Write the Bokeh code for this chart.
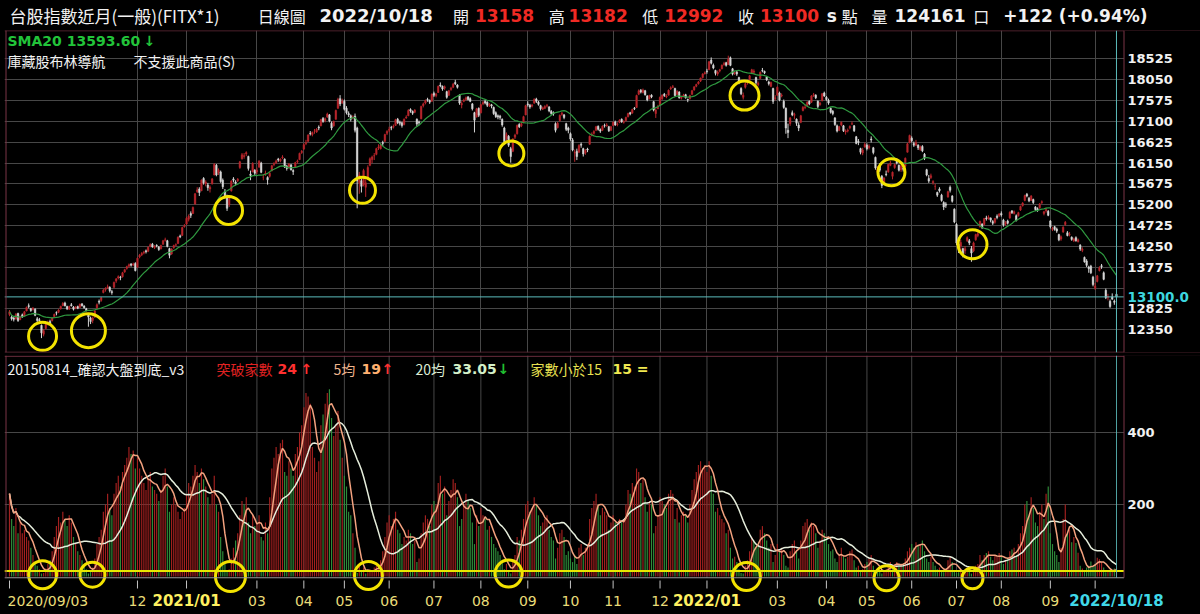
import numpy as np
import pandas as pd
from bokeh.plotting import figure
from bokeh.layouts import column
from bokeh.models import Range1d, FixedTicker, Span, Label, ColumnDataSource, BoxAnnotation
from bokeh.embed import file_html
from bokeh.resources import INLINE

# ---------------- data ----------------
first_day = "2020-09-03"
last_day = "2022-10-18"
holidays = ["2020-10-01", "2020-10-02", "2020-10-09", "2021-01-01",
            "2021-02-08", "2021-02-09", "2021-02-10", "2021-02-11", "2021-02-12",
            "2021-02-15", "2021-02-16", "2021-03-01", "2021-04-02", "2021-04-05",
            "2021-04-30", "2021-06-14", "2021-09-20", "2021-09-21", "2021-10-11",
            "2021-12-31", "2022-01-27", "2022-01-28", "2022-01-31", "2022-02-01",
            "2022-02-02", "2022-02-03", "2022-02-04", "2022-02-28", "2022-04-04",
            "2022-04-05", "2022-05-02", "2022-06-03", "2022-09-09", "2022-10-10"]

opens = [
    12700, 12640, 12620, 12600, 12720, 12580, 12690, 12660, 12780, 12900, 12830, 12810, 12820, 12600, 12580, 12450, 12250, 12380, 12500, 12540,
    12560, 12650, 12740, 12750, 12830, 12900, 12960, 12880, 12820, 12920, 12870, 12840, 12880, 12860, 12940, 12890, 12830, 12700, 12620,
    12560, 12640, 12850, 13000, 13020, 13200, 13260, 13310, 13320, 13220, 13320, 13460, 13530, 13550, 13560, 13670, 13750, 13800, 13850, 13830, 13860,
    13780, 14010, 14060, 14100, 14150, 14140, 14260, 14300, 14220, 14270, 14240, 14200, 14300, 14390, 14380, 14200, 14080, 14220, 14280, 14320, 14490, 14500, 14700,
    14760, 14870, 15000, 15000, 15220, 15500, 15560, 15520, 15800, 15680, 15650, 15560, 15680, 15880, 16100, 15930, 15950, 15760, 15500, 15380,
    15200, 15520, 15790, 15720, 15750, 16050, 16250, 16300, 16360, 16300, 15900, 15950, 15990,
    15950, 16060, 16150, 15830, 15900, 15820, 15850, 15980, 16120, 16160, 16240, 16200, 16270, 16240, 16080, 16060, 16110, 15980, 16050, 16180, 16230, 16390,
    16470, 16600, 16650, 16830, 16800, 16880, 16860, 16970, 17000, 17170, 17120, 17200, 17250, 17060, 17000, 17150, 17400, 17620, 17530,
    17560, 17400, 17280, 17230, 17180, 17220, 16950, 15700, 15750, 15650, 15600, 15780, 16100, 16230, 16310, 16350, 16500, 16480, 16620, 16650, 16830,
    16900, 16960, 16970, 17010, 17150, 17080, 17070, 17030, 17180, 17230, 17370, 17330, 17310, 17150, 17090, 17160, 17460, 17520, 17600, 17580, 17560,
    17740, 17690, 17760, 17930, 17900, 17860, 17780, 17700, 17830, 17880, 17990, 17930, 17700, 17480, 17560, 17600, 17660, 17620, 17500, 17300, 17200, 17400,
    17300, 17500, 17560, 17540, 17460, 17480, 17420, 17300, 17230, 17220, 17150, 16950, 16700, 16760, 16480, 16420, 16740, 16820, 17030, 17000, 17080, 17250,
    17500, 17470, 17450, 17520, 17610, 17540, 17460, 17380, 17400, 17450, 17430, 17330, 17300, 17050, 16960, 17120, 17260, 17250, 17050, 16950,
    16820, 16680, 16380, 16420, 16400, 16580, 16480, 16380, 16470, 16580, 16790, 16830, 16900, 16990, 16910, 16900, 17010, 17000, 16980, 16900,
    17010, 17090, 17030, 17080, 17150, 17080, 17120, 17210, 17300, 17290, 17400, 17420, 17720, 17810, 17760, 17800, 17680, 17620, 17700, 17550, 17280, 17390,
    17480, 17620, 17720, 17660, 17700, 17840, 17880, 17850, 17720, 17770, 17630, 17680, 17710, 17600, 17620, 17720, 17820, 17900, 17960, 18020, 18100, 18190,
    18250, 18280, 18500, 18380, 18260, 18180, 18250, 18300, 18400, 18440, 18400, 18550, 18300, 18200, 18230, 18100, 17850, 17650,
    17880, 17980, 18050, 18200, 18220, 18100, 17940, 18080, 18260, 18240, 18120, 18000, 17900, 17850, 17620,
    17700, 17750, 17680, 17560, 17400, 16900, 17050, 17300, 17240, 17150, 17020, 17080, 17350, 17420, 17460, 17560, 17540, 17690, 17700, 17560, 17480, 17570, 17750,
    17650, 17580, 17400, 17330, 17180, 17000, 16900, 17020, 17000, 16860, 16880, 16950, 17040, 17000, 16750, 16650, 16480, 16380, 16520,
    16560, 16500, 16700, 16500, 16280, 15950, 16100, 15850, 15720, 15900, 15950, 16100, 15850, 16050, 16200, 16100, 16000, 16030, 16080, 16400, 16620,
    16720, 16600, 16560, 16560, 16460, 16530, 16350, 16000, 15800, 15820, 15700, 15620, 15480, 15560, 15420, 15250, 15220, 15380, 15600, 15400, 15100,
    14750, 14300, 14260, 14200, 14150, 14380, 14380, 14200, 14150, 14400, 14500, 14700, 14760, 14750, 14900, 14880, 14900, 14820, 14800, 14940, 14950,
    15000, 14850, 14760, 14830, 14900, 15060, 15000, 14950, 14950, 15080, 15180, 15300, 15440, 15350, 15300, 15320, 15150, 15110, 15130, 15250, 15000, 15060, 15050,
    14830, 14640, 14700, 14650, 14520, 14420, 14580, 14750, 14560, 14520, 14460, 14380, 14450, 14360, 14280, 14160, 14000, 13920, 13780, 13800, 13550,
    13300, 13450, 13700, 13810, 13650, 13250, 13080, 13000, 13100, 13000, 13158]

highs = [
    12800, 12680, 12660, 12730, 12740, 12670, 12720, 12780, 12880, 12950, 12850, 12870, 12840, 12640, 12620, 12470, 12370, 12500, 12560, 12580,
    12640, 12720, 12770, 12820, 12900, 12980, 12990, 12900, 12900, 12960, 12890, 12890, 12900, 12950, 12960, 12910, 12850, 12720, 12650,
    12650, 12800, 12950, 13040, 13100, 13280, 13320, 13380, 13340, 13260, 13450, 13530, 13590, 13580, 13670, 13740, 13810, 13860, 13870, 13880, 13890,
    14000, 14080, 14120, 14150, 14180, 14250, 14320, 14330, 14280, 14300, 14260, 14290, 14400, 14450, 14400, 14220, 14210, 14290, 14320, 14480, 14520, 14700, 14760,
    14920, 14980, 15050, 15160, 15470, 15600, 15600, 15780, 15830, 15760, 15700, 15640, 15810, 16150, 16130, 16030, 15980, 15800, 15560, 15430,
    15420, 15760, 15830, 15760, 15810, 16200, 16380, 16380, 16420, 16320, 15980, 16170, 16010,
    16050, 16220, 16180, 15900, 15980, 15850, 15950, 16110, 16170, 16230, 16270, 16260, 16330, 16260, 16110, 16150, 16130, 16010, 16180, 16230, 16390, 16450,
    16600, 16680, 16810, 16880, 16870, 16930, 16950, 17010, 17160, 17200, 17190, 17300, 17270, 17100, 17120, 17370, 17640, 17700, 17620,
    17600, 17450, 17330, 17260, 17240, 17280, 16980, 15950, 15800, 16020, 15780, 16100, 16280, 16320, 16380, 16500, 16580, 16600, 16660, 16820, 16900,
    16980, 17000, 17030, 17160, 17180, 17120, 17090, 17170, 17240, 17380, 17400, 17350, 17380, 17170, 17120, 17460, 17530, 17600, 17640, 17600, 17740,
    17780, 17750, 17920, 17990, 17920, 17920, 17800, 17820, 17890, 17980, 18050, 17950, 17720, 17560, 17620, 17670, 17680, 17650, 17520, 17320, 17410, 17420,
    17500, 17570, 17590, 17560, 17520, 17500, 17440, 17330, 17260, 17250, 17170, 16980, 16850, 16790, 16520, 16720, 16820, 17030, 17060, 17080, 17230, 17480,
    17560, 17500, 17500, 17630, 17640, 17570, 17480, 17440, 17470, 17500, 17450, 17360, 17330, 17080, 17090, 17260, 17320, 17270, 17070, 16980,
    16850, 16720, 16460, 16480, 16580, 16620, 16500, 16470, 16500, 16780, 16850, 16900, 17000, 17010, 16940, 17010, 17050, 17060, 17000, 17000,
    17100, 17120, 17080, 17150, 17170, 17130, 17210, 17300, 17320, 17390, 17430, 17710, 17830, 17840, 17850, 17820, 17700, 17710, 17720, 17570, 17400, 17480,
    17670, 17720, 17750, 17720, 17830, 17900, 17930, 17870, 17810, 17790, 17690, 17730, 17730, 17620, 17710, 17820, 17900, 17960, 18020, 18100, 18200, 18240,
    18300, 18480, 18560, 18420, 18280, 18260, 18300, 18400, 18460, 18460, 18600, 18580, 18320, 18260, 18260, 18120, 17880, 17760,
    17990, 18040, 18160, 18300, 18290, 18120, 18010, 18240, 18320, 18260, 18140, 18030, 18010, 17870, 17700,
    17900, 17780, 17740, 17600, 17420, 17050, 17200, 17350, 17300, 17170, 17080, 17250, 17450, 17480, 17560, 17580, 17700, 17750, 17720, 17580, 17550, 17750, 17780,
    17680, 17620, 17420, 17360, 17200, 17030, 17000, 17100, 17020, 16920, 16940, 17010, 17100, 17020, 16770, 16700, 16500, 16500, 16620,
    16600, 16580, 16760, 16520, 16300, 16080, 16150, 15880, 15830, 15980, 16130, 16200, 15960, 16140, 16230, 16120, 16100, 16060, 16280, 16610, 16800,
    16760, 16640, 16680, 16580, 16550, 16560, 16380, 16020, 15880, 15910, 15760, 15680, 15500, 15600, 15450, 15280, 15260, 15520, 15640, 15420, 15120,
    14780, 14360, 14400, 14220, 14260, 14480, 14420, 14260, 14360, 14540, 14580, 14840, 14780, 14900, 14950, 14960, 14910, 14850, 14900, 14980, 15010,
    15050, 14880, 14830, 14860, 15050, 15080, 15070, 14980, 15040, 15180, 15260, 15430, 15470, 15380, 15420, 15340, 15170, 15140, 15240, 15300, 15060, 15130, 15080,
    14850, 14700, 14720, 14680, 14540, 14500, 14710, 14830, 14600, 14580, 14480, 14450, 14480, 14430, 14300, 14230, 14020, 13960, 13810, 13830, 13580,
    13420, 13600, 13800, 13850, 13680, 13290, 13170, 13040, 13180, 13040, 13182]

lows = [
    12660, 12560, 12540, 12580, 12530, 12570, 12620, 12650, 12770, 12840, 12760, 12790, 12660, 12520, 12510, 12160, 12200, 12360, 12450, 12470,
    12540, 12630, 12680, 12730, 12810, 12890, 12880, 12800, 12800, 12880, 12790, 12820, 12820, 12850, 12880, 12830, 12770, 12420, 12480,
    12500, 12620, 12820, 12930, 12990, 13180, 13220, 13280, 13200, 13150, 13300, 13420, 13500, 13480, 13540, 13650, 13720, 13770, 13790, 13800, 13680,
    13760, 13980, 14030, 14070, 14090, 14120, 14230, 14220, 14190, 14230, 14150, 14180, 14290, 14360, 14230, 13980, 14060, 14200, 14260, 14310, 14440, 14490, 14680,
    14740, 14820, 14900, 14990, 15200, 15470, 15400, 15510, 15660, 15620, 15520, 15480, 15660, 15870, 15850, 15880, 15700, 15560, 15340, 15060,
    15150, 15500, 15710, 15640, 15720, 16020, 16230, 16250, 16310, 15980, 15760, 15940, 15870,
    15900, 16040, 15920, 15760, 15860, 15660, 15820, 15960, 16080, 16130, 16180, 16170, 16240, 16040, 15980, 16020, 15980, 15880, 16040, 16140, 16220, 16360,
    16450, 16560, 16630, 16780, 16760, 16820, 16840, 16900, 16990, 17070, 17080, 17180, 17080, 16900, 16980, 17140, 17390, 17450, 17500,
    17350, 17260, 17200, 17100, 17150, 16850, 15120, 15450, 15480, 15620, 15380, 15760, 16080, 16150, 16220, 16330, 16450, 16460, 16540, 16630, 16790,
    16860, 16900, 16940, 17000, 17040, 17010, 16960, 17010, 17160, 17220, 17300, 17250, 17290, 16980, 17020, 17150, 17420, 17490, 17550, 17500, 17550,
    17660, 17650, 17750, 17880, 17800, 17820, 17620, 17680, 17800, 17860, 17930, 17850, 17480, 17400, 17540, 17580, 17580, 17540, 17350, 16850, 17190, 17200,
    17280, 17470, 17490, 17430, 17430, 17400, 17250, 17180, 17150, 17140, 16980, 16600, 16650, 16520, 16160, 16400, 16700, 16800, 16950, 16970, 17060, 17240,
    17440, 17390, 17420, 17500, 17520, 17460, 17350, 17360, 17380, 17420, 17310, 17250, 17230, 16850, 16940, 17100, 17230, 17150, 16880, 16830,
    16660, 16420, 16180, 16220, 16380, 16500, 16300, 16340, 16400, 16570, 16760, 16800, 16880, 16890, 16840, 16880, 16960, 16980, 16860, 16880,
    16990, 17000, 16990, 17060, 17070, 17050, 17100, 17190, 17240, 17280, 17360, 17410, 17700, 17740, 17740, 17690, 17560, 17600, 17630, 17330, 17180, 17380,
    17460, 17590, 17660, 17630, 17690, 17820, 17860, 17670, 17700, 17620, 17600, 17650, 17620, 17540, 17600, 17700, 17800, 17880, 17940, 18000, 18080, 18170,
    18190, 18270, 18400, 18290, 18150, 18140, 18220, 18290, 18370, 18350, 18390, 18360, 18150, 18160, 18140, 17950, 17700, 17600,
    17850, 17940, 18030, 18180, 18180, 17940, 17900, 18070, 18220, 18180, 18020, 17920, 17880, 17500, 17580,
    17680, 17560, 17650, 17390, 16820, 16720, 17000, 17220, 17150, 17000, 16880, 17060, 17330, 17380, 17440, 17470, 17520, 17660, 17610, 17400, 17460, 17560, 17660,
    17570, 17480, 17280, 17240, 17000, 16850, 16880, 16990, 16860, 16800, 16850, 16920, 17020, 16860, 16580, 16560, 16350, 16330, 16500,
    16440, 16460, 16620, 16350, 16000, 15900, 15950, 15580, 15680, 15850, 15930, 16080, 15780, 16020, 16120, 15960, 15950, 15960, 16060, 16390, 16600,
    16620, 16520, 16540, 16450, 16430, 16400, 16220, 15850, 15700, 15790, 15660, 15540, 15380, 15480, 15270, 15080, 15130, 15360, 15480, 15250, 14780,
    14280, 14100, 14150, 14000, 14080, 14350, 14280, 13900, 14120, 14380, 14460, 14680, 14650, 14730, 14840, 14860, 14800, 14740, 14770, 14870, 14920,
    14930, 14700, 14720, 14750, 14880, 14990, 14980, 14820, 14930, 15060, 15160, 15280, 15370, 15260, 15290, 15220, 15060, 15040, 15110, 15220, 14960, 15020, 14940,
    14660, 14600, 14610, 14560, 14370, 14380, 14560, 14720, 14480, 14480, 14380, 14350, 14360, 14340, 14150, 14120, 13880, 13780, 13650, 13620, 13340,
    13260, 13430, 13680, 13740, 13480, 13050, 13020, 12850, 13030, 12920, 12992]

closes = [
    12760, 12600, 12590, 12700, 12560, 12640, 12650, 12760, 12860, 12880, 12790, 12840, 12680, 12560, 12560, 12280, 12330, 12480, 12520, 12500,
    12620, 12700, 12730, 12800, 12880, 12950, 12900, 12830, 12880, 12900, 12820, 12870, 12840, 12930, 12900, 12850, 12790, 12640, 12540,
    12620, 12780, 12920, 12980, 13080, 13250, 13290, 13330, 13240, 13200, 13430, 13510, 13560, 13540, 13650, 13720, 13790, 13830, 13820, 13850, 13700,
    13980, 14050, 14090, 14120, 14130, 14230, 14290, 14240, 14250, 14260, 14180, 14270, 14380, 14400, 14250, 14050, 14190, 14270, 14290, 14460, 14470, 14680, 14720,
    14890, 14940, 14960, 15140, 15450, 15540, 15480, 15760, 15700, 15720, 15590, 15600, 15790, 16120, 15880, 15990, 15730, 15610, 15400, 15120,
    15390, 15740, 15760, 15690, 15780, 16180, 16340, 16320, 16390, 16030, 15870, 16140, 15920,
    15990, 16190, 15940, 15830, 15920, 15770, 15920, 16090, 16140, 16200, 16220, 16240, 16290, 16060, 16030, 16130, 16000, 15960, 16160, 16200, 16370, 16420,
    16570, 16620, 16790, 16820, 16850, 16880, 16920, 16950, 17140, 17100, 17160, 17270, 17110, 16950, 17100, 17350, 17600, 17500, 17560,
    17380, 17300, 17250, 17150, 17200, 16900, 15750, 15880, 15620, 15980, 15700, 16050, 16250, 16290, 16320, 16480, 16520, 16560, 16600, 16800, 16870,
    16920, 16950, 16990, 17140, 17070, 17060, 17010, 17150, 17200, 17350, 17340, 17290, 17360, 17040, 17070, 17440, 17500, 17580, 17590, 17540, 17720,
    17700, 17720, 17900, 17910, 17840, 17890, 17650, 17800, 17860, 17950, 17960, 17880, 17520, 17510, 17590, 17640, 17600, 17560, 17390, 17130, 17390, 17240,
    17480, 17530, 17520, 17470, 17490, 17450, 17280, 17210, 17200, 17190, 17020, 16640, 16800, 16560, 16300, 16700, 16790, 17010, 16980, 17050, 17210, 17460,
    17480, 17430, 17470, 17600, 17560, 17490, 17390, 17410, 17440, 17460, 17340, 17280, 17270, 16900, 17060, 17240, 17290, 17190, 16920, 16900,
    16700, 16450, 16390, 16300, 16550, 16560, 16360, 16440, 16450, 16760, 16810, 16870, 16980, 16920, 16880, 16990, 17000, 17020, 16890, 16980,
    17080, 17020, 17040, 17130, 17090, 17100, 17190, 17280, 17270, 17370, 17390, 17690, 17800, 17770, 17820, 17710, 17590, 17690, 17660, 17360, 17360, 17420,
    17650, 17700, 17690, 17680, 17810, 17870, 17890, 17690, 17790, 17640, 17660, 17700, 17640, 17590, 17690, 17800, 17890, 17940, 18000, 18090, 18180, 18210,
    18240, 18460, 18430, 18320, 18200, 18230, 18280, 18380, 18420, 18380, 18520, 18380, 18180, 18210, 18180, 17980, 17730, 17700,
    17960, 18000, 18140, 18280, 18250, 17980, 17970, 18220, 18250, 18210, 18050, 17960, 17990, 17560, 17640,
    17880, 17590, 17700, 17420, 16950, 16850, 17180, 17250, 17260, 17060, 16950, 17230, 17420, 17430, 17540, 17500, 17680, 17710, 17640, 17440, 17520, 17730, 17680,
    17600, 17520, 17310, 17280, 17030, 16880, 16980, 17080, 16890, 16880, 16900, 16990, 17050, 16890, 16600, 16620, 16400, 16450, 16580,
    16480, 16540, 16680, 16390, 16040, 16030, 15990, 15640, 15810, 15890, 16120, 16150, 15940, 16120, 16150, 15990, 16090, 16010, 16260, 16590, 16780,
    16660, 16560, 16620, 16500, 16520, 16430, 16260, 15880, 15740, 15860, 15730, 15620, 15420, 15520, 15300, 15150, 15190, 15500, 15530, 15280, 14810,
    14330, 14210, 14340, 14090, 14200, 14450, 14330, 14100, 14330, 14520, 14540, 14820, 14690, 14890, 14880, 14920, 14850, 14780, 14890, 14910, 14990,
    14970, 14740, 14790, 14780, 15030, 15020, 15040, 14840, 15020, 15160, 15240, 15410, 15400, 15290, 15400, 15250, 15090, 15080, 15220, 15270, 15040, 15090, 14960,
    14700, 14660, 14640, 14600, 14400, 14470, 14690, 14800, 14500, 14530, 14410, 14420, 14380, 14400, 14190, 14190, 13900, 13820, 13740, 13650, 13380,
    13350, 13580, 13760, 13790, 13500, 13080, 13110, 12880, 13050, 12978, 13100]

breakouts = [
    230, 160, 140, 190, 120, 150, 120, 130, 110, 100, 80, 60, 40, 30, 20, 8, 10, 22, 35, 45,
    70, 110, 140, 165, 150, 180, 160, 140, 170, 150, 110, 90, 70, 60, 45, 30, 20, 8, 15,
    25, 50, 90, 110, 130, 180, 200, 230, 190, 170, 230, 260, 280, 250, 290, 310, 330, 360, 340, 350, 300,
    330, 300, 280, 260, 240, 270, 290, 250, 240, 230, 210, 240, 280, 300, 250, 180, 200, 220, 200, 180, 160, 180, 190,
    230, 260, 250, 280, 310, 290, 260, 300, 270, 250, 220, 200, 230, 280, 200, 180, 110, 70, 35, 15,
    20, 50, 80, 100, 120, 170, 210, 200, 220, 150, 120, 170, 140,
    150, 170, 110, 100, 150, 120, 220, 300, 330, 360, 340, 370, 380, 290, 280, 320, 300, 280, 340, 360, 400, 420,
    470, 510, 500, 480, 360, 330, 290, 320, 420, 450, 480, 510, 520, 440, 390, 420, 460, 380, 330,
    280, 250, 180, 170, 120, 80, 10, 30, 15, 25, 8, 12, 20, 15, 25, 30, 25, 45, 70, 110, 150,
    170, 140, 160, 180, 130, 120, 90, 110, 100, 130, 120, 90, 100, 40, 50, 120, 150, 170, 160, 140, 200,
    210, 200, 260, 280, 230, 250, 170, 210, 240, 270, 260, 220, 140, 160, 200, 230, 210, 190, 150, 90, 170, 140,
    190, 170, 160, 130, 140, 110, 90, 80, 70, 60, 45, 20, 35, 15, 8, 40, 60, 110, 100, 130, 160, 200,
    210, 180, 190, 220, 200, 170, 140, 150, 160, 170, 130, 110, 100, 50, 80, 120, 130, 110, 60, 70,
    50, 40, 60, 35, 80, 90, 60, 80, 90, 160, 190, 210, 230, 200, 170, 190, 180, 170, 130, 150,
    170, 150, 140, 160, 150, 160, 200, 240, 230, 260, 250, 300, 290, 260, 270, 220, 180, 210, 200, 120, 140, 170,
    220, 210, 200, 190, 230, 240, 230, 160, 190, 150, 170, 180, 170, 150, 200, 240, 270, 290, 310, 320, 300, 310,
    290, 320, 280, 230, 180, 190, 170, 160, 150, 120, 130, 80, 50, 55, 40, 20, 10, 8,
    30, 45, 70, 110, 100, 80, 90, 130, 140, 120, 100, 80, 90, 40, 60,
    90, 70, 80, 60, 30, 25, 70, 90, 100, 70, 50, 100, 140, 150, 160, 130, 150, 140, 120, 80, 100, 130, 120,
    110, 90, 70, 75, 50, 40, 60, 80, 55, 50, 55, 70, 75, 45, 25, 30, 15, 20, 35,
    40, 50, 60, 30, 15, 20, 18, 8, 15, 20, 35, 40, 25, 35, 40, 30, 35, 30, 50, 70, 80,
    90, 80, 95, 85, 90, 100, 70, 50, 40, 55, 40, 30, 20, 25, 18, 12, 20, 45, 55, 40, 15,
    10, 12, 20, 10, 15, 25, 20, 8, 20, 30, 35, 60, 45, 60, 65, 70, 55, 45, 60, 55, 65,
    60, 35, 45, 50, 70, 75, 80, 60, 90, 120, 140, 200, 210, 170, 220, 190, 150, 140, 180, 200, 160, 230, 250,
    120, 90, 70, 60, 40, 80, 160, 200, 120, 130, 95, 110, 93, 66, 30, 22, 18, 25, 30, 42, 28,
    35, 52, 48, 40, 25, 12, 16, 15, 18, 22, 24]

price_ticks = [12350, 12825, 13300, 13775, 14250, 14725, 15200, 15675,
               16150, 16625, 17100, 17575, 18050, 18525]
price_tick_hidden = [13300]
count_ticks = [200, 400]
threshold = 15
last_close = 13100
month_starts = ["2020-12", "2021-01", "2021-03", "2021-04", "2021-05", "2021-06",
                "2021-07", "2021-08", "2021-09", "2021-10", "2021-11", "2021-12",
                "2022-01", "2022-03", "2022-04", "2022-05", "2022-06", "2022-07",
                "2022-08", "2022-09", "2022-10"]
month_labels = ["12", "2021/01", "03", "04", "05", "06", "07", "08", "09", "10", "11", "12",
                "2022/01", "03", "04", "05", "06", "07", "08", "09", ""]
bold_month_labels = ["2021/01", "2022/01"]
first_label = "2020/09/03"
last_label = "2022/10/18"

# yellow hand-drawn marks (bar position, value)
mark_up_x = [15.5, 37, 102.7, 165.5, 235.3, 344.6, 413.5, 451.5]
mark_up_y = [12200, 12330, 15070, 15530, 16370, 17690, 15940, 14300]
mark_lo_x = [15.5, 38.9, 103.6, 168.3, 234, 345.5, 411.2, 451.5]
mark_lo_y = [5, 5, 0, 3, 8, 0, -5, -5]
mark_up_size = [28, 34, 28, 26, 25, 29, 27, 29]
mark_lo_size = [28, 25, 30, 28, 27, 28, 25, 21]

# ---------------- derived ----------------
N = len(closes)
idx = list(range(N))
dates = pd.bdate_range(first_day, last_day)
dates = dates[~dates.isin(pd.to_datetime(holidays))][:N]
month_idx = [int(np.searchsorted(dates.values, np.datetime64(m + "-01"))) for m in month_starts]

sma20 = pd.Series(closes, dtype=float).rolling(20, min_periods=1).mean()
ma5 = pd.Series(breakouts, dtype=float).rolling(5, min_periods=1).mean()
ma20 = pd.Series(breakouts, dtype=float).rolling(20, min_periods=1).mean()

UP_C, DN_C = "#b8262c", "#d6d6d6"
candle_col = [UP_C if c >= o else DN_C for o, c in zip(opens, closes)]
bar_col = ["#a3201f" if (i == 0 or closes[i] >= closes[i - 1]) else "#2f8c3a" for i in idx]

CJK = "Noto Sans CJK TC"
NUM = "DejaVu Sans"
GRID = "#474747"
BORDER = "#7a3446"
W = "#f2f2f2"
AXIS_Y = "#e9dc78"

# geometry helpers for texts (window pixel -> data)
FL, FR = 4, 1200
X0 = -5 / 2.1329
X1 = X0 + (FR - FL) / 2.1329
def px_x(px):
    return X0 + (px - FL) * (X1 - X0) / (FR - FL)

YU0, YU1 = 11832, 19174
def py_u(py):
    return YU1 - (py - 30) * (YU1 - YU0) / 322.0

YL1 = 613.9
YL0 = YL1 - 259 * (652.8 / 235.0)
def py_l(py):
    return YL1 - (py - 355) * (YL1 - YL0) / 259.0

def lab(p, x, y, s, color, font, size, bold=False, align="left", bg=None):
    p.add_layout(Label(x=x, y=y, text=s, text_color=color, text_font=font,
                       text_font_size=size, text_font_style="bold" if bold else "normal",
                       text_align=align, text_baseline="middle",
                       background_fill_color=bg))

xr = Range1d(X0, X1)
PLOT_RIGHT = px_x(1123.5)

# ---------------- header ----------------
h = figure(width=1200, height=29, x_range=Range1d(0, 1200), y_range=Range1d(29, 0),
           output_backend="svg", toolbar_location=None, x_axis_location=None,
           y_axis_location=None, min_border=0, background_fill_color="black",
           border_fill_color="black", outline_line_color=None)
h.grid.visible = False
RED = "#f02a24"
header = [
    (5, "台股指數近月(一般)(FITX*1)", W, CJK, "17px", False),
    (254, "日線圖", W, CJK, "16px", False),
    (316, "2022/10/18", W, NUM, "18px", True),
    (450, "開", W, CJK, "16px", False),
    (472, "13158", RED, NUM, "17px", True),
    (546, "高", W, CJK, "16px", False),
    (566, "13182", RED, NUM, "17px", True),
    (640, "低", W, CJK, "16px", False),
    (662, "12992", RED, NUM, "17px", True),
    (736, "收", W, CJK, "16px", False),
    (758, "13100", RED, NUM, "17px", True),
    (825, "s", W, NUM, "17px", True),
    (840, "點", W, CJK, "16px", False),
    (870, "量", W, CJK, "16px", False),
    (893, "124161", W, NUM, "17px", True),
    (972, "口", W, CJK, "16px", False),
    (1002, "+122 (+0.94%)", W, NUM, "17px", True),
]
for x, s, c, f, sz, b in header:
    lab(h, x, 15, s, c, f, sz, b)

# ---------------- price panel ----------------
p = figure(width=1200, height=325, x_range=xr, y_range=Range1d(YU0, YU1),
           output_backend="svg", toolbar_location=None, x_axis_location=None,
           y_axis_location=None, min_border_left=FL, min_border_right=0,
           min_border_top=1, min_border_bottom=2, background_fill_color="black",
           border_fill_color="black", outline_line_color=None)
p.ygrid.ticker = FixedTicker(ticks=price_ticks)
p.xgrid.ticker = FixedTicker(ticks=month_idx)
p.grid.grid_line_color = GRID

src = ColumnDataSource(dict(x=idx, o=opens, h=highs, l=lows, c=closes,
                            top=[max(a, b) for a, b in zip(opens, closes)],
                            bot=[min(a, b) for a, b in zip(opens, closes)],
                            col=candle_col))
p.segment(x0="x", y0="l", x1="x", y1="h", line_color="col", line_width=1, source=src)
p.vbar(x="x", width=0.72, top="top", bottom="bot", fill_color="col", line_color="col",
       line_width=0.5, source=src)
p.line(idx, sma20.values, line_color="#2f9a40", line_width=1.2)
p.scatter(mark_up_x, mark_up_y, size=mark_up_size, marker="circle", fill_color=None,
          line_color="#f3e300", line_width=3)

p.add_layout(Span(location=last_close, dimension="width", line_color="#5cbcbc", line_width=1))
p.add_layout(Span(location=YU1 - 5, dimension="width", line_color=BORDER, line_width=1))
p.add_layout(Span(location=YU0 + 5, dimension="width", line_color=BORDER, line_width=1))
p.add_layout(BoxAnnotation(left=PLOT_RIGHT, fill_color="black", fill_alpha=1.0, line_color=None))
p.add_layout(Span(location=px_x(5.5), dimension="height", line_color=BORDER, line_width=1))
p.add_layout(Span(location=px_x(1123.5), dimension="height", line_color=BORDER, line_width=1))
p.add_layout(Span(location=N - 1, dimension="height", line_color="#5cbcbc", line_width=1))

for t in price_ticks:
    if t not in price_tick_hidden:
        lab(p, px_x(1127), t, str(t), W, NUM, "13px", True)
lab(p, px_x(1127), last_close, "%.1f" % last_close, "#3cd6df", NUM, "13.5px", True, bg="black")

lab(p, px_x(7), py_u(40), "SMA20 13593.60", "#22c43a", NUM, "14px", True)
lab(p, px_x(143), py_u(40), "↓", "#22c43a", NUM, "14px", True)
lab(p, px_x(7), py_u(60), "庫藏股布林導航", W, CJK, "14px")
lab(p, px_x(133), py_u(60), "不支援此商品(S)", W, CJK, "14px")

# ---------------- breadth panel ----------------
q = figure(width=1200, height=260, x_range=xr, y_range=Range1d(YL0, YL1),
           output_backend="svg", toolbar_location=None, x_axis_location=None,
           y_axis_location=None, min_border_left=FL, min_border_right=0,
           min_border_top=1, min_border_bottom=0, background_fill_color="black",
           border_fill_color="black", outline_line_color=None)
q.xgrid.visible = False
q.ygrid.ticker = FixedTicker(ticks=count_ticks)
q.ygrid.grid_line_color = GRID

nm = len(month_idx)
q.segment(x0=month_idx, y0=[-3.5] * nm, x1=month_idx, y1=[YL1] * nm,
          line_color=GRID, line_width=1, level="underlay")
tick_pos = [0] + month_idx
q.segment(x0=tick_pos, y0=[py_l(588)] * len(tick_pos), x1=tick_pos,
          y1=[py_l(580)] * len(tick_pos), line_color="#c4c4c4", line_width=1)

q.vbar(x=idx, width=0.55, top=breakouts, bottom=0, fill_color=bar_col, line_color=None)
q.line(idx, ma20.values, line_color="#e6eedc", line_width=1.5)
q.line(idx, ma5.values, line_color="#f3a27f", line_width=1.5)
q.scatter(mark_lo_x, mark_lo_y, size=mark_lo_size, marker="circle", fill_color=None,
          line_color="#f3e300", line_width=3)

q.add_layout(Span(location=threshold, dimension="width", line_color="#e8e800", line_width=2))
q.add_layout(Span(location=-3.5, dimension="width", line_color="#9a9a9a", line_width=1))
q.add_layout(Span(location=YL1 - 2, dimension="width", line_color=BORDER, line_width=1))
q.add_layout(BoxAnnotation(left=PLOT_RIGHT, fill_color="black", fill_alpha=1.0, line_color=None))
q.add_layout(BoxAnnotation(left=px_x(5), right=px_x(6), bottom=-3.5, fill_color=BORDER,
                           fill_alpha=1.0, line_color=None))
q.add_layout(BoxAnnotation(left=px_x(1123), right=px_x(1124), bottom=-3.5, fill_color=BORDER,
                           fill_alpha=1.0, line_color=None))
q.add_layout(BoxAnnotation(left=N - 1 - 0.2, right=N - 1 + 0.2, bottom=-3.5, fill_color="#5cbcbc",
                           fill_alpha=1.0, line_color=None))

for t in count_ticks:
    lab(q, px_x(1127), t, str(t), W, NUM, "13px", True)

ly = py_l(368)
lab(q, px_x(7), ly, "20150814_確認大盤到底_v3", W, CJK, "14px")
lab(q, px_x(216), ly, "突破家數", "#e02222", CJK, "14px")
lab(q, px_x(277), ly, "24", "#ff3030", NUM, "14px", True)
lab(q, px_x(300), ly, "↑", "#ff3030", NUM, "14px", True)
lab(q, px_x(333), ly, "5均", "#f0b48c", CJK, "14px")
lab(q, px_x(361), ly, "19", "#ffb070", NUM, "14px", True)
lab(q, px_x(381), ly, "↑", "#ff3030", NUM, "14px", True)
lab(q, px_x(415), ly, "20均", "#dcecd4", CJK, "14px")
lab(q, px_x(452), ly, "33.05", "#d4f0c8", NUM, "14px", True)
lab(q, px_x(497), ly, "↓", "#20c030", NUM, "14px", True)
lab(q, px_x(530), ly, "家數小於15", "#e8e050", CJK, "14px")
lab(q, px_x(612), ly, "15 =", "#f0e850", NUM, "14px", True)

by = py_l(600)
lab(q, px_x(7), by, first_label, AXIS_Y, NUM, "14px")
for i_m, lbl in zip(month_idx, month_labels):
    if not lbl:
        continue
    if lbl in bold_month_labels:
        lab(q, i_m, by, lbl, "#fff060", NUM, "15px", True, "center")
    else:
        lab(q, i_m, by, lbl, AXIS_Y, NUM, "14px", False, "center")
lab(q, N - 1, by, last_label, "#40d8e8", NUM, "15px", True, "center")

layout = column(h, p, q, spacing=0)
html = file_html(layout, INLINE, title="台股指數近月 日線圖")
html = html.replace("</head>", "<style>html,body{margin:0;padding:0;background:#000;overflow:hidden;}</style></head>", 1)
open("out.html", "w").write(html)
